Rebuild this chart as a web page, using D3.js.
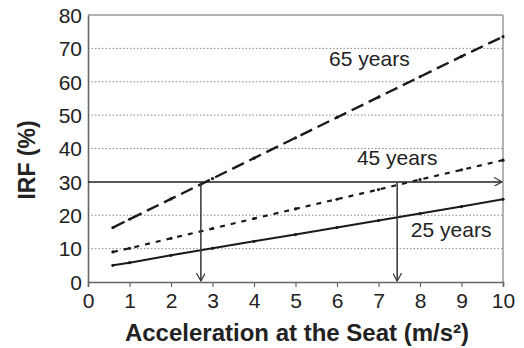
<!DOCTYPE html>
<html>
<head>
<meta charset="utf-8">
<script src="https://cdn.jsdelivr.net/npm/d3@7"></script>
<style>
  body { margin: 0; background: #fff; }
  text { font-family: "Liberation Sans", Arial, sans-serif; }
</style>
</head>
<body>
<div id="chart"></div>
<script>
// values
const accel = [0.6, 1, 2, 3, 4, 5, 6, 7, 8, 9, 10];
const irf65 = [16.3, 18.8, 24.9, 31.0, 37.1, 43.2, 49.3, 55.4, 61.5, 67.6, 73.5];
const irf45 = [9.0, 10.1, 13.1, 16.0, 19.0, 21.9, 24.8, 27.7, 30.7, 33.6, 36.5];
const irf25 = [5.0, 5.8, 8.0, 10.1, 12.2, 14.2, 16.3, 18.4, 20.5, 22.6, 24.8];
const seriesNames = ["65 years", "45 years", "25 years"];
const xTicks = [0, 1, 2, 3, 4, 5, 6, 7, 8, 9, 10];
const yTicks = [0, 10, 20, 30, 40, 50, 60, 70, 80];
const gridLevels = [10, 20, 40, 50, 60, 70];
const threshold = 30;
const crossings = [2.72, 7.45];

const W = 524, H = 348;
const margin = {top: 15, right: 21, bottom: 66, left: 88};
const width = W - margin.left - margin.right;
const height = H - margin.top - margin.bottom;

const svg = d3.select("#chart").append("svg")
    .attr("width", W)
    .attr("height", H);

const defs = svg.append("defs");
defs.append("marker")
    .attr("id", "arrow")
    .attr("viewBox", "0 0 10 10")
    .attr("refX", 9).attr("refY", 5)
    .attr("markerWidth", 9).attr("markerHeight", 9)
    .attr("markerUnits", "userSpaceOnUse")
    .attr("orient", "auto")
    .append("path")
    .attr("d", "M0,0 L9,5 L0,10")
    .attr("fill", "none")
    .attr("stroke", "#333")
    .attr("stroke-width", 1.3);

const g = svg.append("g")
    .attr("transform", `translate(${margin.left},${margin.top})`);

const x = d3.scaleLinear().domain([0, 10]).range([0, width]);
const y = d3.scaleLinear().domain([0, 80]).range([height, 0]);

// dotted grid
g.selectAll(".grid")
    .data(gridLevels)
    .join("line")
    .attr("class", "grid")
    .attr("x1", 0).attr("x2", width)
    .attr("y1", d => y(d)).attr("y2", d => y(d))
    .attr("stroke", "#888")
    .attr("stroke-width", 1)
    .attr("stroke-dasharray", "1.5,2");

// frame top and right
g.append("line").attr("x1", 0).attr("x2", width).attr("y1", 0).attr("y2", 0)
    .attr("stroke", "#999").attr("stroke-width", 1.5);
g.append("line").attr("x1", width).attr("x2", width).attr("y1", 0).attr("y2", height)
    .attr("stroke", "#999").attr("stroke-width", 1.5);

// axes
const xAxis = g.append("g")
    .attr("transform", `translate(0,${height})`)
    .call(d3.axisBottom(x).tickValues(xTicks).tickSize(5).tickPadding(6));
const yAxis = g.append("g")
    .call(d3.axisLeft(y).tickValues(yTicks).tickSize(0).tickPadding(6));

[xAxis, yAxis].forEach(ax => {
    ax.select(".domain").attr("stroke", "#666").attr("stroke-width", 1.6);
    ax.selectAll(".tick line").attr("stroke", "#666").attr("stroke-width", 1.2);
    ax.selectAll(".tick text")
        .attr("fill", "#222")
        .style("font-size", "21px")
        .style("font-family", "'Liberation Sans', Arial, sans-serif");
});
yAxis.selectAll(".tick text").attr("dy", "0.35em");

// series lines
const series = [
    {name: seriesNames[0], values: irf65, dash: "13,6", width: 2.4},
    {name: seriesNames[1], values: irf45, dash: "5,6", width: 2.2},
    {name: seriesNames[2], values: irf25, dash: null, width: 2.0}
];

const line = d3.line()
    .x((d, i) => x(accel[i]))
    .y(d => y(d));

series.forEach(s => {
    g.append("path")
        .datum(s.values)
        .attr("d", line)
        .attr("fill", "none")
        .attr("stroke", "#1a1a1a")
        .attr("stroke-width", s.width)
        .attr("stroke-dasharray", s.dash);
    g.selectAll(null)
        .data(s.values)
        .join("circle")
        .attr("cx", (d, i) => x(accel[i]))
        .attr("cy", d => y(d))
        .attr("r", 1.6)
        .attr("fill", "#1a1a1a");
});

// threshold line with arrow
g.append("line")
    .attr("x1", x(0)).attr("x2", x(10) - 1)
    .attr("y1", y(threshold)).attr("y2", y(threshold))
    .attr("stroke", "#222")
    .attr("stroke-width", 1.5)
    .attr("marker-end", "url(#arrow)");

// vertical arrows down to the x axis
g.selectAll(".drop")
    .data(crossings)
    .join("line")
    .attr("class", "drop")
    .attr("x1", d => x(d)).attr("x2", d => x(d))
    .attr("y1", y(threshold)).attr("y2", y(0) - 1)
    .attr("stroke", "#333")
    .attr("stroke-width", 1.5)
    .attr("marker-end", "url(#arrow)");

// series labels
const labelPos = [
    {x: 5.81, y: 64.7},
    {x: 6.48, y: 35.1},
    {x: 7.78, y: 13.5}
];
g.selectAll(".slabel")
    .data(seriesNames)
    .join("text")
    .attr("class", "slabel")
    .attr("x", (d, i) => x(labelPos[i].x))
    .attr("y", (d, i) => y(labelPos[i].y))
    .attr("fill", "#222")
    .style("font-size", "21px")
    .text(d => d);

// axis titles
svg.append("text")
    .attr("x", 297)
    .attr("y", 341)
    .attr("text-anchor", "middle")
    .attr("fill", "#222")
    .style("font-size", "24px")
    .style("font-weight", "bold")
    .text("Acceleration at the Seat (m/s²)");

svg.append("text")
    .attr("transform", `translate(35,${160}) rotate(-90)`)
    .attr("text-anchor", "middle")
    .attr("fill", "#222")
    .style("font-size", "23px")
    .style("font-weight", "bold")
    .text("IRF (%)");
</script>
</body>
</html>
